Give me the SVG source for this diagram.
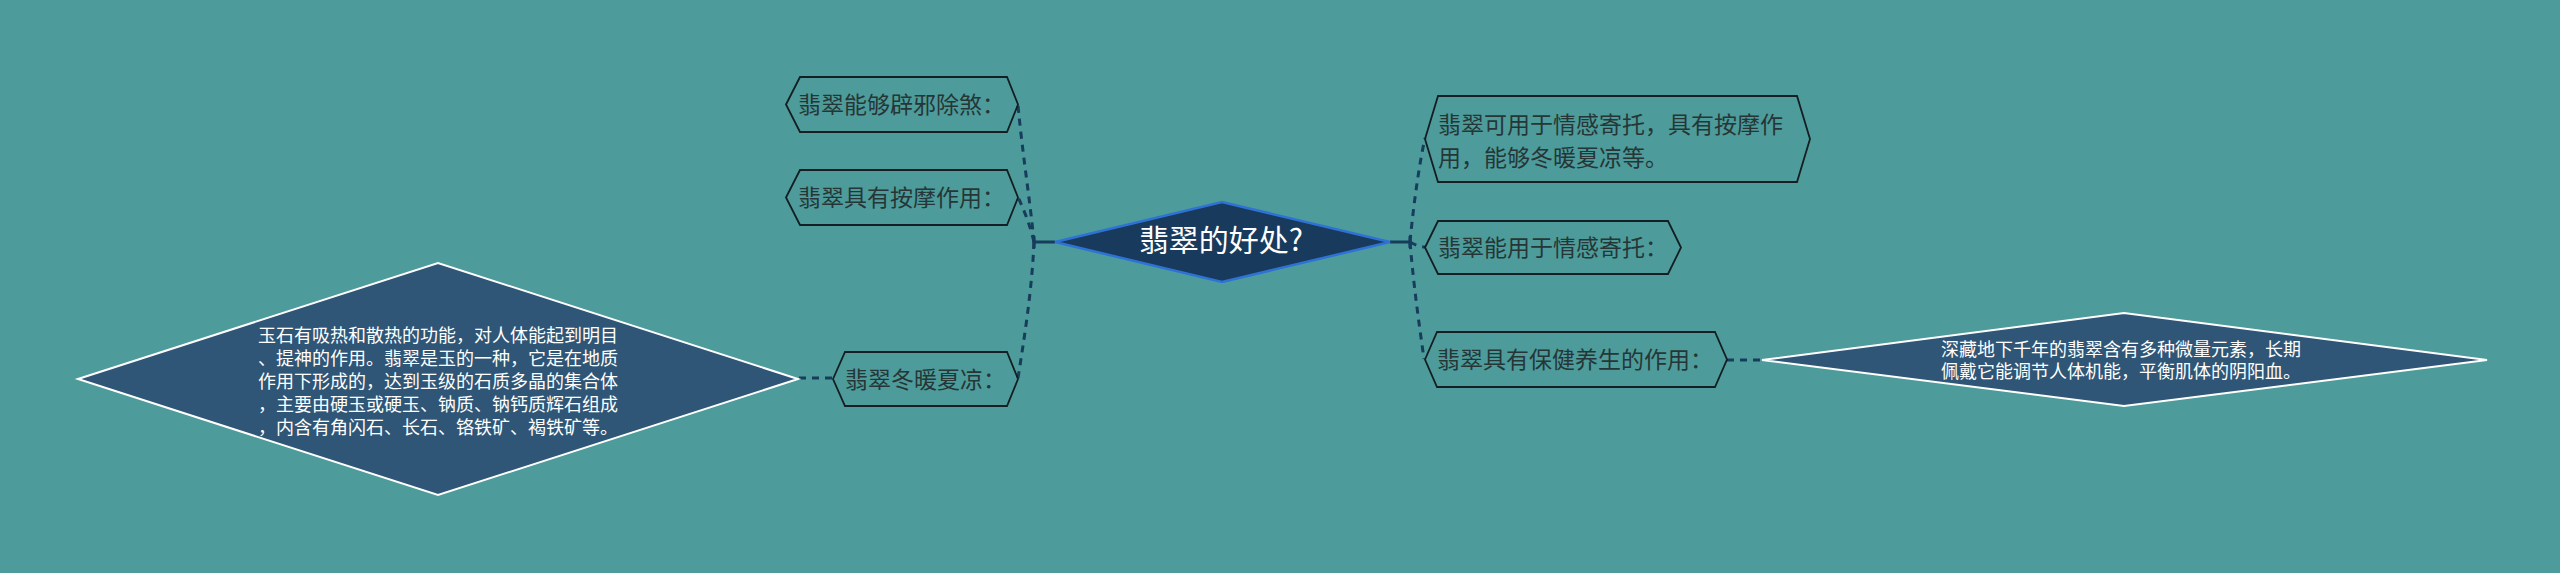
<svg xmlns="http://www.w3.org/2000/svg" width="2560" height="573" viewBox="0 0 2560 573">
  <style>
    .hex { fill: none; stroke: #151e22; stroke-width: 1.8; }
    .htxt { font-family: "Noto Sans CJK SC", "Noto Sans", sans-serif; font-size: 23px; fill: #263636; }
    .big { fill: #2f5676; stroke: #ffffff; stroke-width: 2; }
    .btxt { font-family: "Noto Sans CJK SC", "Noto Sans", sans-serif; font-size: 18px; fill: #ffffff; }
    .dash { fill: none; stroke: #173c5c; stroke-width: 3; stroke-dasharray: 7 6; }
    .solid { fill: none; stroke: #173c5c; stroke-width: 3; }
  </style>
  <rect x="0" y="0" width="2560" height="573" fill="#4d9c9b"/>

  <g id="connectors">
    <path class="solid" d="M1055,242 H1034 M1034,236 V248"/>
    <path class="dash" d="M1034,242 C1030,200 1022,150 1018,105"/>
    <path class="dash" d="M1034,242 C1030,225 1024,210 1018,197"/>
    <path class="dash" d="M1034,242 C1032,290 1024,340 1018,378"/>
    <path class="dash" d="M799,378 H833"/>
    <path class="solid" d="M1390,242 H1410 M1410,236 V248"/>
    <path class="dash" d="M1410,242 C1414,200 1420,160 1425,138"/>
    <path class="dash" d="M1410,242 C1415,245 1420,247 1425,247"/>
    <path class="dash" d="M1410,242 C1414,290 1420,330 1424,359"/>
    <path class="dash" d="M1727,360 H1762"/>
  </g>

  <g id="root">
    <polygon points="1055,242 1222,202 1390,242 1222,282" fill="#183a5c" stroke="#2f72d6" stroke-width="2.5"/>
    <text x="1221" y="251" text-anchor="middle" font-family="Noto Sans CJK SC, Noto Sans, sans-serif" font-size="30" fill="#ffffff">翡翠的好处?</text>
  </g>

  <g id="node-l1">
    <polygon class="hex" points="786,104.5 800,77 1007,77 1018,104.5 1007,132 800,132"/>
    <text class="htxt" x="798" y="113">翡翠能够辟邪除煞：</text>
  </g>
  <g id="node-l2">
    <polygon class="hex" points="786,197.5 800,170 1007,170 1018,197.5 1007,225 800,225"/>
    <text class="htxt" x="798" y="206">翡翠具有按摩作用：</text>
  </g>
  <g id="node-l3">
    <polygon class="hex" points="833,379 845,352 1007,352 1018,379 1007,406 845,406"/>
    <text class="htxt" x="845" y="388">翡翠冬暖夏凉：</text>
  </g>
  <g id="node-l3-detail">
    <polygon class="big" points="78,379 438,263 798,379 438,495"/>
    <text class="btxt" x="258" y="342">玉石有吸热和散热的功能，对人体能起到明目<tspan x="258" dy="23">、提神的作用。翡翠是玉的一种，它是在地质</tspan><tspan x="258" dy="23">作用下形成的，达到玉级的石质多晶的集合体</tspan><tspan x="258" dy="23">，主要由硬玉或硬玉、钠质、钠钙质辉石组成</tspan><tspan x="258" dy="23">，内含有角闪石、长石、铬铁矿、褐铁矿等。</tspan></text>
  </g>

  <g id="node-r1">
    <polygon class="hex" points="1425,139 1438,96 1797,96 1810,139 1797,182 1438,182"/>
    <text class="htxt" x="1438" y="133">翡翠可用于情感寄托，具有按摩作<tspan x="1438" dy="33">用，能够冬暖夏凉等。</tspan></text>
  </g>
  <g id="node-r2">
    <polygon class="hex" points="1425,247.5 1438,221 1668,221 1681,247.5 1668,274 1438,274"/>
    <text class="htxt" x="1438" y="256">翡翠能用于情感寄托：</text>
  </g>
  <g id="node-r3">
    <polygon class="hex" points="1425,359.5 1437,332 1715,332 1727,359.5 1715,387 1437,387" stroke-width="2.4"/>
    <text class="htxt" x="1437" y="368">翡翠具有保健养生的作用：</text>
  </g>
  <g id="node-r3-detail">
    <polygon class="big" points="1762,360 2124,313 2487,360 2124,406"/>
    <text class="btxt" x="1941" y="356">深藏地下千年的翡翠含有多种微量元素，长期<tspan x="1941" dy="22">佩戴它能调节人体机能，平衡肌体的阴阳血。</tspan></text>
  </g>
</svg>
